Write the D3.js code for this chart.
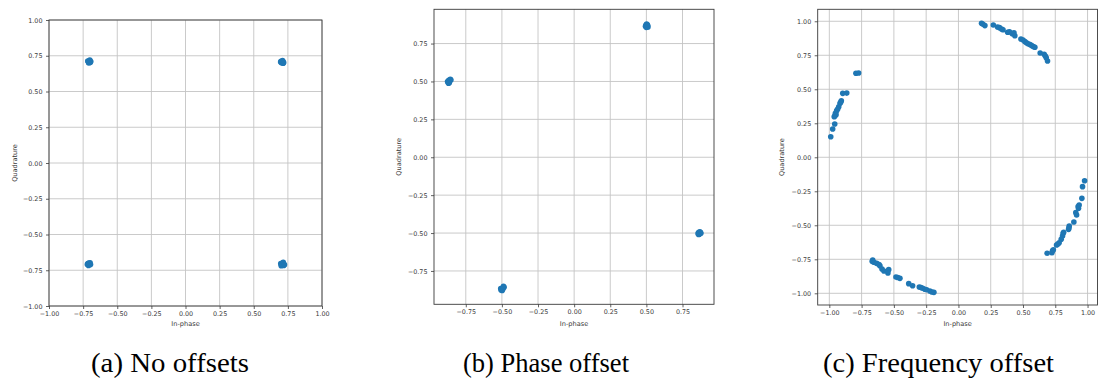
<!DOCTYPE html>
<html>
<head>
<meta charset="utf-8">
<script src="https://cdn.jsdelivr.net/npm/d3@7"></script>
<style>
  body { margin: 0; background: #fff; }
  svg { display: block; }
</style>
</head>
<body>
<svg id="fig" width="1098" height="378"></svg>
<script>
// ---- tick values ----
const ticksFull  = [-1, -0.75, -0.5, -0.25, 0, 0.25, 0.5, 0.75, 1];
const ticksInner = [-0.75, -0.5, -0.25, 0, 0.25, 0.5, 0.75];

// ---- captions and axis titles ----
const captions = ["(a) No offsets", "(b) Phase offset", "(c) Frequency offset"];
const xTitle = "In-phase";
const yTitle = "Quadrature";

// ---- received symbols (I, Q) ----
// QPSK with no offsets
const noOffsetPoints = [
  [0.700, 0.712], [0.708, 0.704], [0.714, 0.709], [0.705, 0.699], [0.719, 0.703], [0.697, 0.706], [0.711, 0.716], [0.716, 0.698],
  [-0.712, 0.708], [-0.703, 0.714], [-0.698, 0.702], [-0.709, 0.699], [-0.701, 0.720], [-0.716, 0.713], [-0.694, 0.709], [-0.706, 0.705],
  [-0.715, -0.703], [-0.706, -0.712], [-0.699, -0.698], [-0.703, -0.707], [-0.711, -0.716], [-0.696, -0.710], [-0.719, -0.709], [-0.708, -0.700],
  [0.703, -0.712], [0.712, -0.700], [0.719, -0.716], [0.708, -0.706], [0.698, -0.703], [0.716, -0.695], [0.701, -0.718], [0.725, -0.711]
];

// QPSK with a constant phase offset
const phaseOffsetPoints = [
  [0.497, 0.872], [0.505, 0.861], [0.509, 0.869], [0.494, 0.864], [0.502, 0.878], [0.511, 0.859], [0.499, 0.857], [0.506, 0.874],
  [-0.872, 0.495], [-0.861, 0.503], [-0.868, 0.507], [-0.876, 0.499], [-0.857, 0.515], [-0.864, 0.492], [-0.853, 0.509], [-0.870, 0.489],
  [-0.502, -0.872], [-0.495, -0.862], [-0.508, -0.866], [-0.489, -0.851], [-0.498, -0.879], [-0.485, -0.858], [-0.506, -0.876], [-0.493, -0.869],
  [0.861, -0.497], [0.870, -0.503], [0.866, -0.508], [0.874, -0.495], [0.858, -0.504], [0.869, -0.492], [0.862, -0.510], [0.877, -0.501]
];

// QPSK with a frequency offset (rotating constellation)
const freqOffsetPoints = [
  // upper-left arc
  [-0.794, 0.618], [-0.773, 0.620], [-0.896, 0.470], [-0.865, 0.472], [-0.907, 0.416], [-0.917, 0.397],
  [-0.927, 0.372], [-0.943, 0.343], [-0.953, 0.323], [-0.958, 0.304], [-0.948, 0.312], [-0.962, 0.298],
  [-0.958, 0.245], [-0.974, 0.208], [-0.989, 0.151], [-0.912, 0.405], [-0.935, 0.355],
  // upper-right arc
  [0.179, 0.985], [0.190, 0.978], [0.205, 0.968], [0.270, 0.973], [0.303, 0.958], [0.318, 0.953],
  [0.334, 0.943], [0.345, 0.938], [0.381, 0.919], [0.395, 0.922], [0.417, 0.909], [0.437, 0.894],
  [0.430, 0.915], [0.484, 0.870], [0.500, 0.862], [0.515, 0.850], [0.527, 0.842], [0.540, 0.835],
  [0.555, 0.828], [0.567, 0.821], [0.580, 0.814], [0.592, 0.809], [0.633, 0.767], [0.664, 0.757],
  [0.673, 0.745], [0.680, 0.732], [0.690, 0.708],
  // lower-right arc
  [0.977, -0.172], [0.961, -0.216], [0.956, -0.302], [0.935, -0.351], [0.930, -0.375], [0.927, -0.362],
  [0.909, -0.407], [0.915, -0.424], [0.894, -0.476], [0.858, -0.505], [0.853, -0.530], [0.856, -0.518],
  [0.811, -0.559], [0.806, -0.579], [0.815, -0.552], [0.796, -0.603], [0.780, -0.628], [0.760, -0.645],
  [0.770, -0.638], [0.729, -0.687], [0.724, -0.702], [0.735, -0.680], [0.687, -0.706],
  // lower-left arc
  [-0.664, -0.755], [-0.668, -0.765], [-0.654, -0.772], [-0.633, -0.780], [-0.608, -0.797], [-0.615, -0.788],
  [-0.592, -0.821], [-0.577, -0.836], [-0.540, -0.826], [-0.546, -0.851], [-0.484, -0.880], [-0.470, -0.884],
  [-0.453, -0.890], [-0.385, -0.929], [-0.355, -0.944], [-0.303, -0.954], [-0.290, -0.958], [-0.277, -0.963],
  [-0.260, -0.970], [-0.246, -0.974], [-0.221, -0.983], [-0.205, -0.990], [-0.190, -0.993]
];

// ---- panel layout ----
const panels = [
  { data: noOffsetPoints,    box: { x0: 49,    x1: 322,    y0: 20,  y1: 306 },
    xDomain: [-1, 1], yDomain: [-1, 1], xTicks: ticksFull, yTicks: ticksFull,
    yTitleX: 15, caption: { x: 91, w: 158 } },
  { data: phaseOffsetPoints, box: { x0: 434,   x1: 714,    y0: 9.3, y1: 304.3 },
    xDomain: [-0.970, 0.968], yDomain: [-0.970, 0.976], xTicks: ticksInner, yTicks: ticksInner,
    yTitleX: 399, caption: { x: 463, w: 166 } },
  { data: freqOffsetPoints,  box: { x0: 817.7, x1: 1097.5, y0: 9.3, y1: 305 },
    xDomain: [-1.09, 1.077], yDomain: [-1.086, 1.088], xTicks: ticksFull, yTicks: ticksFull,
    yTitleX: 782.7, caption: { x: 823, w: 231 } }
];

const svg = d3.select("#fig");
const fmt = v => d3.format(".2f")(v).replace("-", "\u2212");
const tickFont = "'DejaVu Sans', sans-serif";
const ink = "#3a3a3a";
const gridCol = "#c4c4c4";
const dotCol = "#1f77b4";

panels.forEach((p, i) => {
  const x = d3.scaleLinear().domain(p.xDomain).range([p.box.x0, p.box.x1]);
  const y = d3.scaleLinear().domain(p.yDomain).range([p.box.y1, p.box.y0]);
  const g = svg.append("g");
  const w = p.box.x1 - p.box.x0, h = p.box.y1 - p.box.y0;

  // grid
  g.append("g").selectAll("line").data(p.xTicks).join("line")
    .attr("x1", d => x(d)).attr("x2", d => x(d))
    .attr("y1", p.box.y0).attr("y2", p.box.y1)
    .attr("stroke", gridCol).attr("stroke-width", 0.9);
  g.append("g").selectAll("line").data(p.yTicks).join("line")
    .attr("y1", d => y(d)).attr("y2", d => y(d))
    .attr("x1", p.box.x0).attr("x2", p.box.x1)
    .attr("stroke", gridCol).attr("stroke-width", 0.9);

  // points
  g.append("g").selectAll("circle").data(p.data).join("circle")
    .attr("cx", d => x(d[0])).attr("cy", d => y(d[1]))
    .attr("r", 2.8).attr("fill", dotCol);

  // axes
  const xAxis = d3.axisBottom(x).tickValues(p.xTicks).tickFormat(fmt).tickSize(3).tickPadding(2.5);
  const yAxis = d3.axisLeft(y).tickValues(p.yTicks).tickFormat(fmt).tickSize(3).tickPadding(3.5);
  [g.append("g").attr("transform", `translate(0,${p.box.y1})`).call(xAxis),
   g.append("g").attr("transform", `translate(${p.box.x0},0)`).call(yAxis)].forEach(a => {
    a.select(".domain").remove();
    a.selectAll(".tick line").attr("stroke", ink).attr("stroke-width", 0.8);
    a.selectAll(".tick text").attr("fill", ink).style("font-family", tickFont).style("font-size", "6.4px");
  });

  // frame
  g.append("rect").attr("x", p.box.x0).attr("y", p.box.y0).attr("width", w).attr("height", h)
    .attr("fill", "none").attr("stroke", ink).attr("stroke-width", 0.9);

  // axis titles
  g.append("text").attr("x", (p.box.x0 + p.box.x1) / 2).attr("y", 326)
    .attr("text-anchor", "middle").attr("fill", ink)
    .style("font-family", tickFont).style("font-size", "6.6px").text(xTitle);
  g.append("text").attr("transform", `translate(${p.yTitleX},${(p.box.y0 + p.box.y1) / 2}) rotate(-90)`)
    .attr("text-anchor", "middle").attr("dominant-baseline", "middle").attr("fill", ink)
    .style("font-family", tickFont).style("font-size", "6.6px").text(yTitle);

  // caption
  svg.append("text").attr("x", p.caption.x).attr("y", 372)
    .attr("textLength", p.caption.w).attr("lengthAdjust", "spacingAndGlyphs")
    .attr("fill", "#000").style("font-family", "'Liberation Serif', 'DejaVu Serif', serif")
    .style("font-size", "27.5px").text(captions[i]);
});
</script>
</body>
</html>
